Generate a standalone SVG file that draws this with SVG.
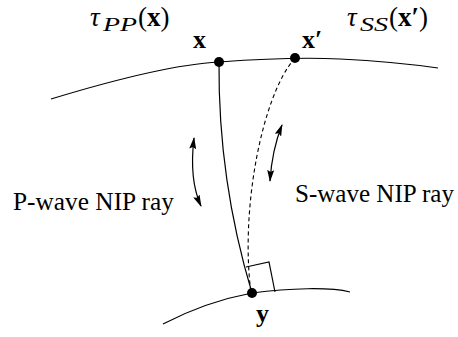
<svg xmlns="http://www.w3.org/2000/svg" width="458" height="337" viewBox="0 0 458 337">
<style>
.ln{fill:none;stroke:#000;stroke-width:1.2}
.dash{fill:none;stroke:#000;stroke-width:1.1;stroke-dasharray:4,3}
.dot{fill:#000}
.lbl{font-family:"Liberation Serif",serif;fill:#000}
.b{font-weight:bold}
.i{font-style:italic}
</style>
<defs>
<marker id="ah" viewBox="0 0 12 7" refX="11" refY="3.5" markerWidth="12" markerHeight="7" markerUnits="userSpaceOnUse" orient="auto-start-reverse">
<path d="M0,0 L12,3.5 L0,7 L2,3.5 Z" fill="#000"/>
</marker>
</defs>
<rect width="458" height="337" fill="#fff"/>
<g id="interfaces">
<path class="ln" d="M51,99 C120,78 180,64 219,62 C260,59 300,57 340,59 C380,61 410,64 438,68"/>
<path class="ln" d="M163,324 C190,310 220,299 252,293 C290,288 330,287 350,292"/>
</g>
<g id="connectors">
<path class="ln" d="M219,62 Q218,180 252,293"/>
<path class="dash" d="M295,58 C262,95 240,210 251,293"/>
<path class="ln" d="M246,267 L269,262 L275,292"/>
<path class="ln" marker-start="url(#ah)" marker-end="url(#ah)" d="M194,138 Q189,180 201,206"/>
<path class="ln" marker-start="url(#ah)" marker-end="url(#ah)" d="M282,125 Q272,150 270,181"/>
</g>
<g id="node-x">
<circle class="dot" cx="219" cy="62" r="5"/>
<text class="lbl b" x="193" y="48" font-size="26">x</text>
</g>
<g id="node-xp">
<circle class="dot" cx="295" cy="58" r="5"/>
<text class="lbl b" x="302" y="48" font-size="26">x′</text>
</g>
<g id="node-y">
<circle class="dot" cx="252" cy="293" r="5"/>
<text class="lbl b" x="256" y="322" font-size="26">y</text>
</g>
<g id="label-tpp">
<text class="lbl" font-size="27"><tspan class="i" x="90" y="26">τ</tspan><tspan class="i" x="103" y="31" font-size="19" textLength="34" lengthAdjust="spacingAndGlyphs">PP</tspan><tspan x="138" y="26">(</tspan><tspan class="b">x</tspan><tspan>)</tspan></text>
</g>
<g id="label-tss">
<text class="lbl" font-size="27"><tspan class="i" x="347" y="26">τ</tspan><tspan class="i" x="360" y="31" font-size="19" textLength="28" lengthAdjust="spacingAndGlyphs">SS</tspan><tspan x="389" y="26">(</tspan><tspan class="b">x′</tspan><tspan>)</tspan></text>
</g>
<g id="label-p">
<text class="lbl" x="13" y="210" font-size="25" textLength="161" lengthAdjust="spacingAndGlyphs">P-wave NIP ray</text>
</g>
<g id="label-s">
<text class="lbl" x="295" y="202" font-size="25" textLength="159" lengthAdjust="spacingAndGlyphs">S-wave NIP ray</text>
</g>
</svg>
